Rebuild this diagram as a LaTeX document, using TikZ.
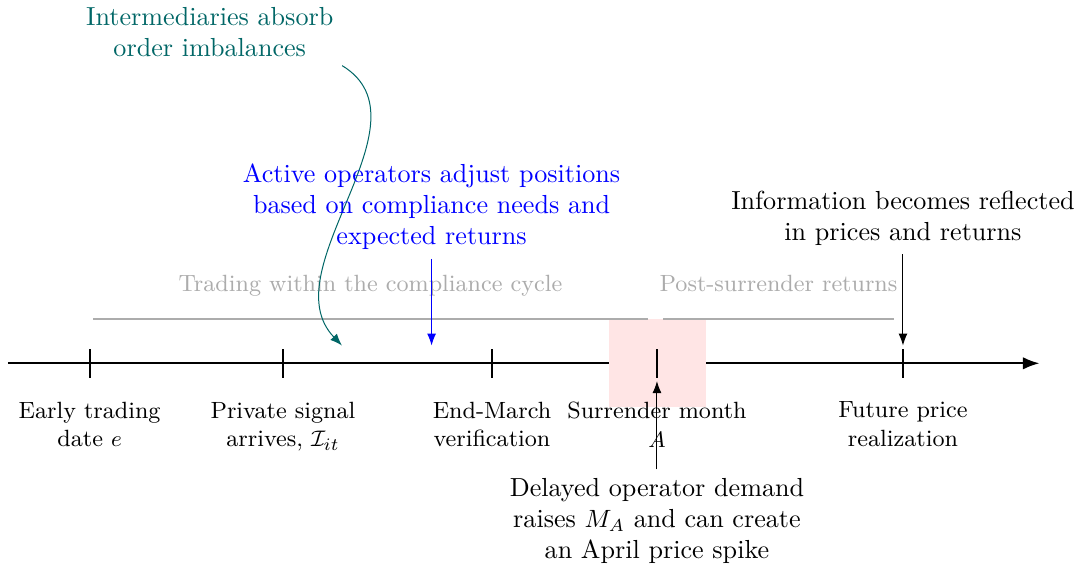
\documentclass[tikz,border=0pt]{standalone}
\usepackage{amsmath}
\usepackage{amssymb}
\usepackage{tikz}
\usetikzlibrary{positioning, arrows.meta}

\begin{document}
\begin{tikzpicture}[
    tlabel/.style={font=\fontsize{9.4}{11.4}\selectfont, align=center},
    tick/.style={thick},
    phase/.style={draw=gray!65, line width=1pt},
    phaselabel/.style={font=\fontsize{9.4}{11.4}\selectfont, text=gray!65, text depth=0.21em},
    note/.style={font=\fontsize{10.45}{12.5}\selectfont, align=center},
  ]
    \useasboundingbox (-0.11,-2.87) rectangle (15.08,5.11);

    % Time axis
    \coordinate (axisStart) at (0,0);
    \coordinate (axisEnd) at (14.51,0);
    \draw[thick, -{Latex}] (axisStart) -- (axisEnd);

    % Surrender month highlight
    \fill[red!10] (8.45,-0.62) rectangle (9.82,0.62);

    % Phase bars with their labels
    \coordinate (cycleStart) at (1.2,0.62);
    \coordinate (cycleEnd) at (9.0,0.62);
    \draw[phase] (cycleStart) -- (cycleEnd) coordinate[midway] (cycleMid);
    \node[phaselabel, above=0.19cm of cycleMid] (cycle) {Trading within the compliance cycle};

    \coordinate (postStart) at (9.22,0.62);
    \coordinate (postEnd) at (12.46,0.62);
    \draw[phase] (postStart) -- (postEnd) coordinate[midway] (postMid);
    \node[phaselabel, above=0.19cm of postMid] (post) {Post-surrender returns};

    % Ticks and their labels
    \coordinate (earlyTick) at (1.15,0);
    \draw[tick] ([yshift=-0.2cm]earlyTick) -- ([yshift=0.2cm]earlyTick);
    \node[tlabel, below=0.42cm of earlyTick] (early) {Early trading\\date $e$};

    \coordinate (signalTick) at (3.87,0);
    \draw[tick] ([yshift=-0.2cm]signalTick) -- ([yshift=0.2cm]signalTick);
    \node[tlabel, below=0.42cm of signalTick] (signal) {Private signal\\arrives, $\mathcal{I}_{it}$};

    \coordinate (marchTick) at (6.81,0);
    \draw[tick] ([yshift=-0.2cm]marchTick) -- ([yshift=0.2cm]marchTick);
    \node[tlabel, below=0.42cm of marchTick] (march) {End-March\\verification};

    \coordinate (surrenderTick) at (9.13,0);
    \draw[tick] ([yshift=-0.2cm]surrenderTick) -- ([yshift=0.2cm]surrenderTick);
    \node[tlabel, below=0.42cm of surrenderTick] (surrender) {Surrender month\\$A$};

    \coordinate (futureTick) at (12.59,0);
    \draw[tick] ([yshift=-0.2cm]futureTick) -- ([yshift=0.2cm]futureTick);
    \node[tlabel, below=0.42cm of futureTick] (future) {Future price\\realization};

    % Annotations
    \node[note, text=teal!80!black] (intermediaries) at (2.84,4.66) {Intermediaries absorb\\order imbalances};
    \coordinate (flowEnd) at (4.70,0.25);
    \draw[teal!80!black, -{Latex}] (intermediaries.south east) .. controls (6.0,3.4) and (3.68,1.31) .. (flowEnd);

    \node[note, text=blue] (active) at (5.96,2.2) {Active operators adjust positions\\based on compliance needs and\\expected returns};
    \coordinate (activeEnd) at (5.96,0.25);
    \draw[blue, -{Latex}] (active) -- (activeEnd);

    \node[note] (info) at (12.59,2.04) {Information becomes reflected\\in prices and returns};
    \coordinate (infoEnd) at (12.59,0.25);
    \draw[-{Latex}] (info) -- (infoEnd);

    \node[note] (delayed) at (9.13,-2.22) {Delayed operator demand\\raises $M_A$ and can create\\an April price spike};
    \coordinate (delayedEnd) at (9.13,-0.25);
    \draw[-{Latex}] (delayed) -- (delayedEnd);
  \end{tikzpicture}
\end{document}
